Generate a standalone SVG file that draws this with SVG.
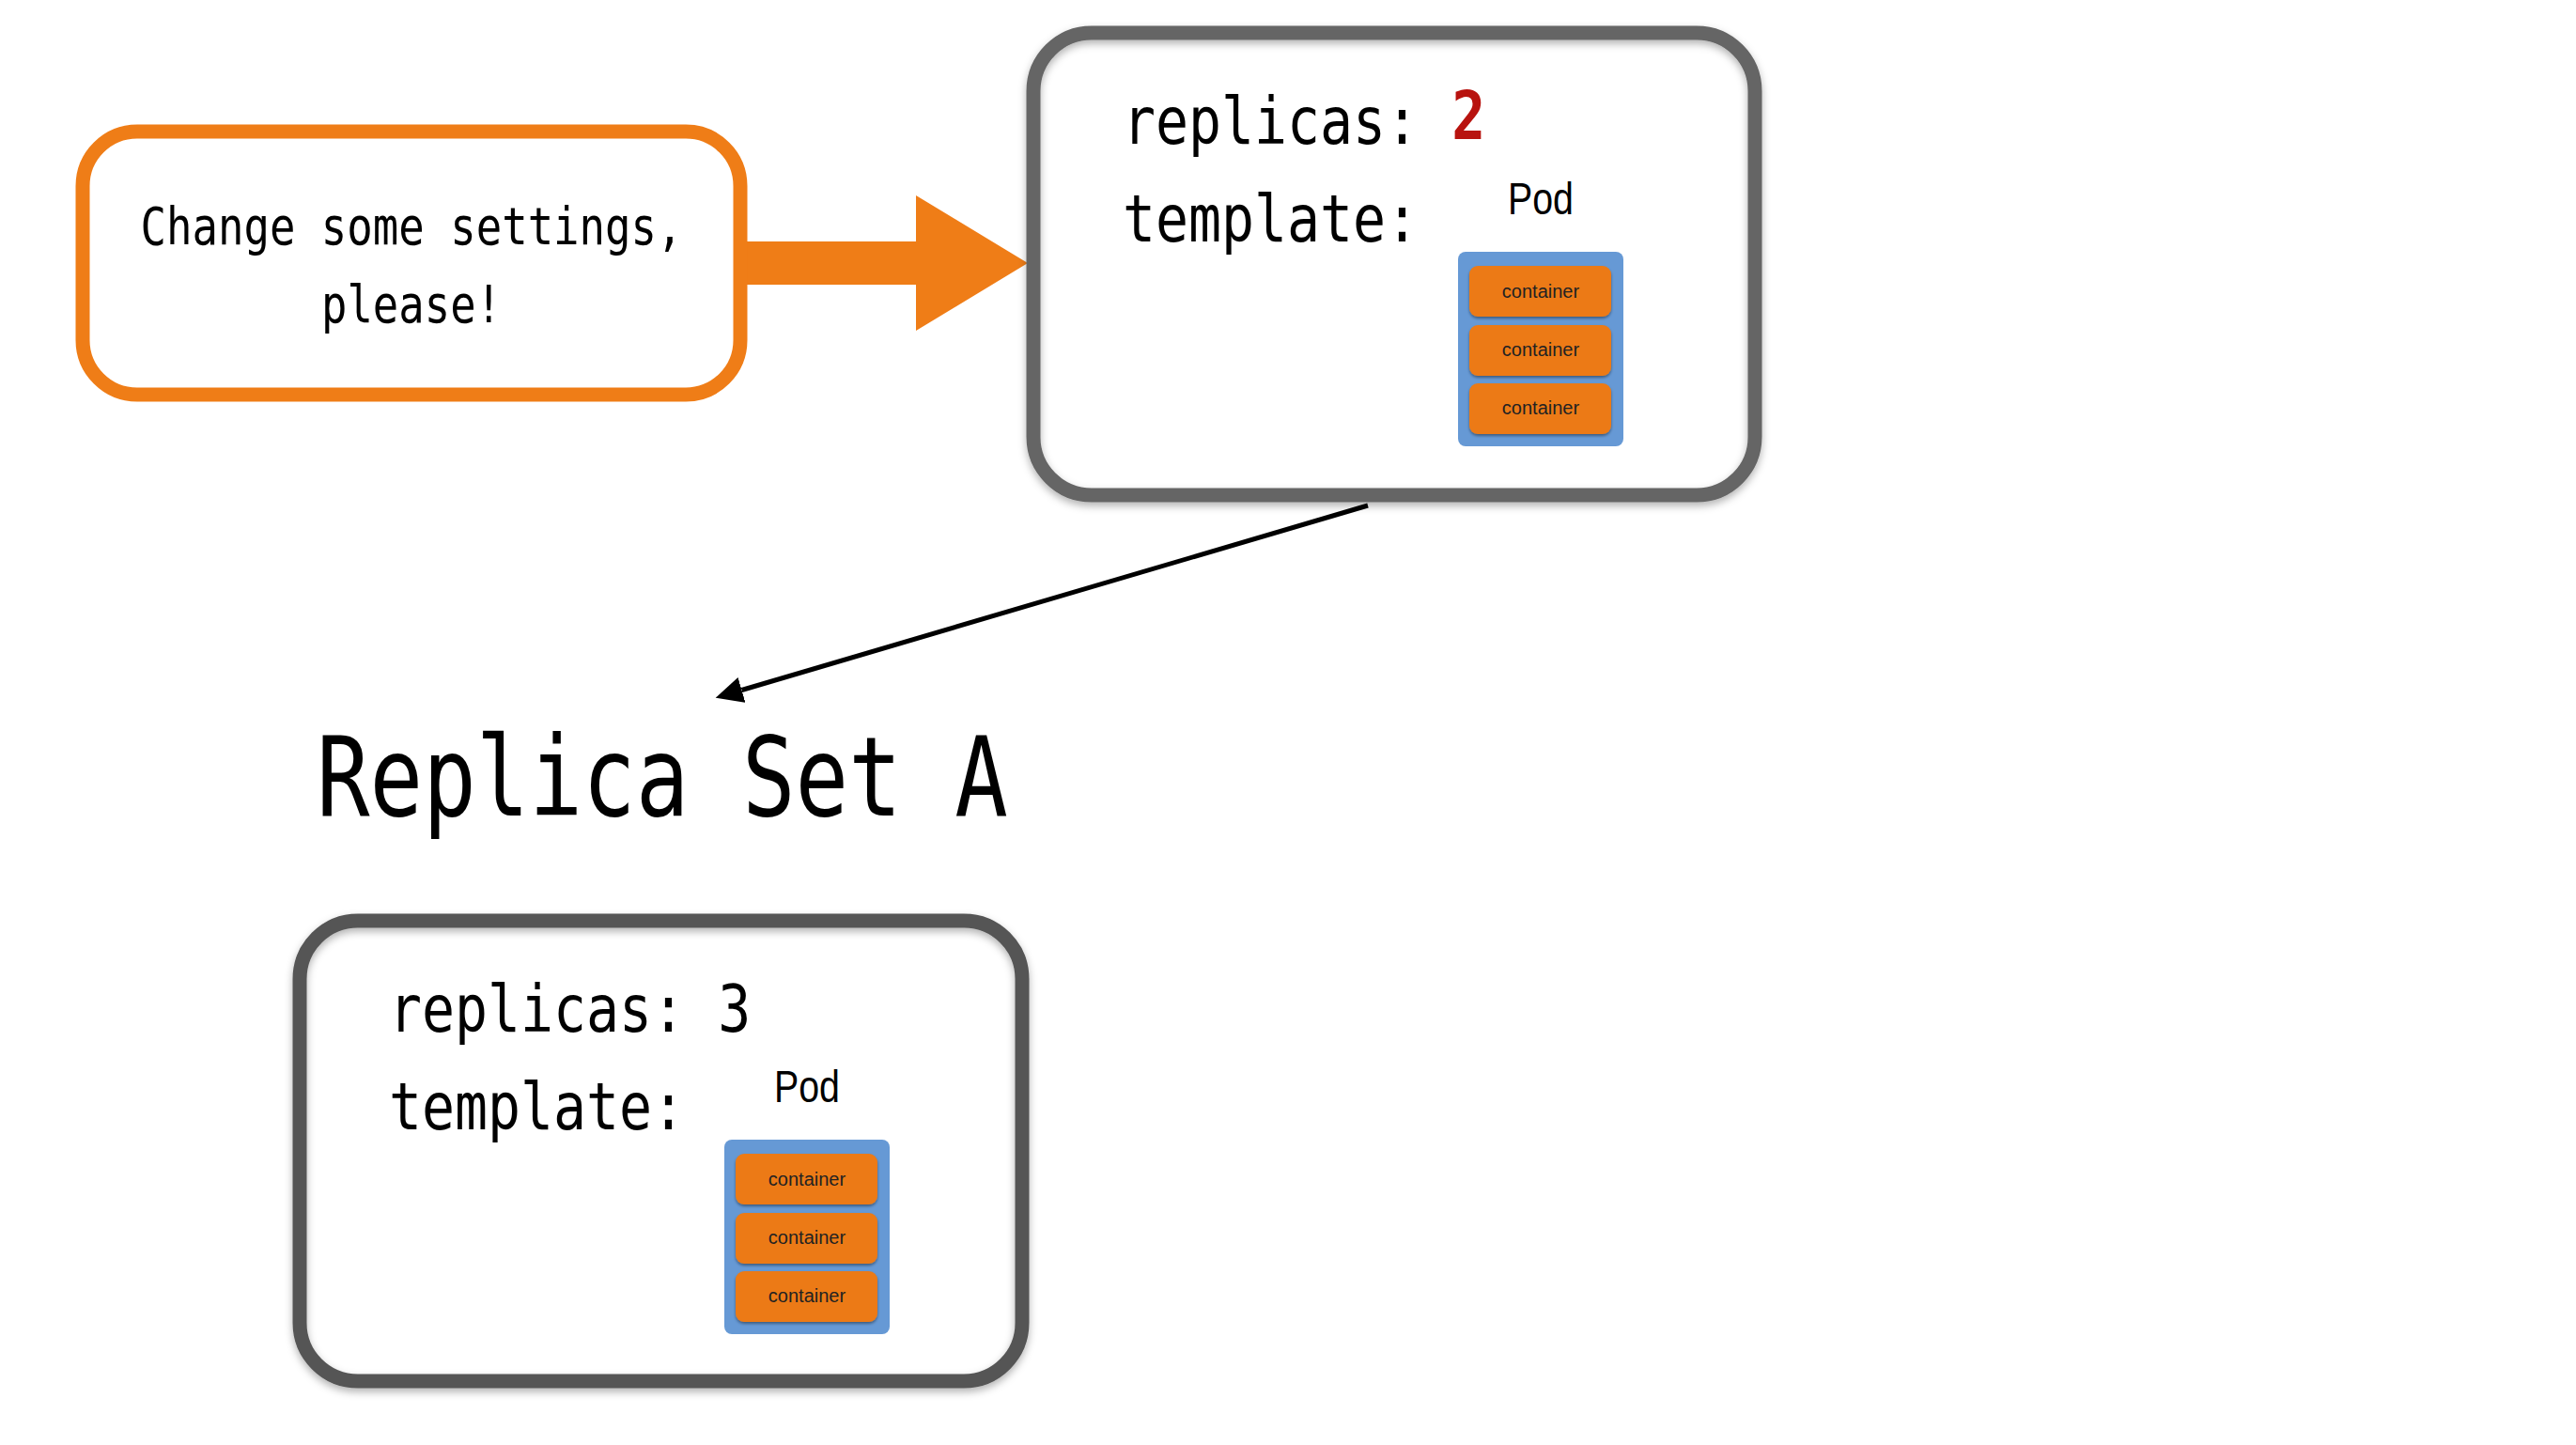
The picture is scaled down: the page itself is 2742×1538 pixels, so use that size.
<svg xmlns="http://www.w3.org/2000/svg" width="2742" height="1538" viewBox="0 0 2742 1538">
  <style>
    .mono { font-family: "DejaVu Sans Mono", "Liberation Mono", monospace; fill: #000; }
    .spec { font-size: 70px; }
    .sans { font-family: "Liberation Sans", Arial, sans-serif; }
    .frame { fill: none; stroke-width: 15; }
    .pod { fill: #6699d5; }
    .ctr { fill: #ec7a17; }
    .ctr-label { font-size: 20px; fill: #222; text-anchor: middle; }
    .pod-label { font-size: 49px; fill: #000; text-anchor: middle; }
    .changed { font-size: 72px; font-weight: bold; fill: #b8130f; }
  </style>
  <defs>
    <filter id="shadow" x="-10%" y="-10%" width="120%" height="125%">
      <feDropShadow dx="0" dy="4" stdDeviation="4" flood-color="#000" flood-opacity="0.3"/>
    </filter>
    <filter id="chip" x="-10%" y="-20%" width="120%" height="150%">
      <feDropShadow dx="0" dy="2" stdDeviation="1.5" flood-color="#000" flood-opacity="0.4"/>
    </filter>
    <marker id="head" markerUnits="userSpaceOnUse" markerWidth="30" markerHeight="28" refX="0" refY="14" orient="auto">
      <path d="M0,0 L29,14 L0,28 Z" fill="#000"/>
    </marker>
    <!-- shared pod template: blue pod with three containers -->
    <g id="podTemplate">
      <text class="sans pod-label" x="1640" y="228" textLength="70" lengthAdjust="spacingAndGlyphs">Pod</text>
      <rect class="pod" x="1552" y="268" width="176" height="207" rx="8"/>
      <g filter="url(#chip)">
        <rect class="ctr" x="1564" y="283" width="151" height="54" rx="9"/>
        <rect class="ctr" x="1564" y="346" width="151" height="54" rx="9"/>
        <rect class="ctr" x="1564" y="408" width="151" height="54" rx="9"/>
      </g>
      <text class="sans ctr-label" x="1640" y="317">container</text>
      <text class="sans ctr-label" x="1640" y="379">container</text>
      <text class="sans ctr-label" x="1640" y="441">container</text>
    </g>
  </defs>

  <rect width="2742" height="1538" fill="#fff"/>

  <!-- connectors -->
  <g id="connectors">
    <polygon id="request-arrow" points="789,257 975,257 975,208 1094,280 975,352 975,303 789,303" fill="#ef7d17"/>
    <line id="creates" x1="1456" y1="538" x2="789.5" y2="734.5" stroke="#000" stroke-width="5" marker-end="url(#head)"/>
  </g>

  <!-- request note -->
  <g id="request">
    <rect x="88" y="140" width="700" height="280" rx="58" fill="#fff" stroke="#ef7d17" stroke-width="15"/>
    <text class="mono" font-size="56" x="438" y="260" text-anchor="middle" textLength="577" lengthAdjust="spacingAndGlyphs">Change some settings,</text>
    <text class="mono" font-size="56" x="438" y="343" text-anchor="middle" textLength="192" lengthAdjust="spacingAndGlyphs">please!</text>
  </g>

  <!-- new spec -->
  <g id="new-spec">
    <rect x="1100" y="35" width="768" height="492" rx="62" fill="#fff"/>
    <rect class="frame" x="1100" y="35" width="768" height="492" rx="62" stroke="#656565" filter="url(#shadow)"/>
    <!-- narrow monospace: 70px glyphs squeezed to a 35px pitch -->
    <g transform="translate(1195,153) scale(0.831,1)">
      <text class="mono spec" x="0" y="0">replicas: <tspan class="changed" dy="-5">2</tspan></text>
    </g>
    <g transform="translate(1195,257) scale(0.831,1)">
      <text class="mono spec" x="0" y="0">template:</text>
    </g>
    <use href="#podTemplate"/>
  </g>

  <!-- title -->
  <g id="title">
    <text class="mono" font-size="117" x="337" y="868" textLength="736" lengthAdjust="spacingAndGlyphs">Replica Set A</text>
  </g>

  <!-- replica set A current spec -->
  <g id="replica-set-a">
    <rect x="319" y="980" width="769" height="490" rx="62" fill="#fff"/>
    <rect class="frame" x="319" y="980" width="769" height="490" rx="62" stroke="#555" filter="url(#shadow)"/>
    <g transform="translate(414,1098) scale(0.831,1)">
      <text class="mono spec" x="0" y="0">replicas: 3</text>
    </g>
    <g transform="translate(414,1202) scale(0.831,1)">
      <text class="mono spec" x="0" y="0">template:</text>
    </g>
    <use href="#podTemplate" transform="translate(-781,945)"/>
  </g>
</svg>
